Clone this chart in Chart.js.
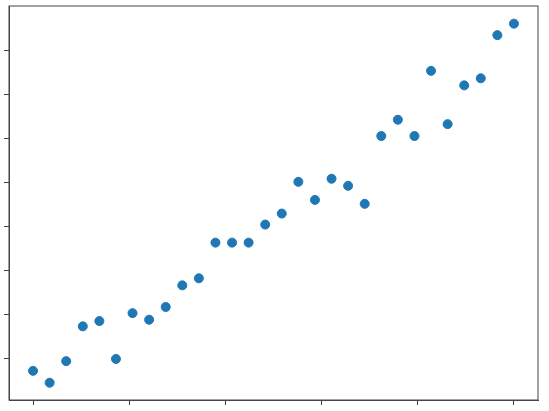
<!DOCTYPE html>
<html>
<head>
<meta charset="utf-8">
<script src="https://cdn.jsdelivr.net/npm/chart.js@4.4.0/dist/chart.umd.min.js"></script>
<style>
	html, body { margin: 0; padding: 0; background: #fff; }
	#wrap { width: 549px; height: 411px; }
</style>
</head>
<body>
<div id="wrap"><canvas id="scatter"></canvas></div>
<script>
// x runs evenly from 0 to 1 (30 points), y in tick units
var xValues = [];
for (var i = 0; i < 30; i++) xValues.push(i / 29);
var yValues = [0.73, 0.46, 0.95, 1.74, 1.86, 1.00, 2.04, 1.89, 2.18, 2.67,
	2.83, 3.64, 3.64, 3.64, 4.05, 4.30, 5.02, 4.61, 5.09, 4.93,
	4.52, 6.06, 6.43, 6.06, 7.54, 6.33, 7.21, 7.37, 8.35, 8.61];
var xTicks = [0, 0.2, 0.4, 0.6, 0.8, 1.0];
var yTicks = [1, 2, 3, 4, 5, 6, 7, 8];

var points = [];
for (var i = 0; i < xValues.length; i++) {
	points.push({ x: xValues[i], y: yValues[i] });
}

// chart.js only draws left/bottom borders, so box the plot area ourselves
var frame = {
	id: 'frame',
	afterDraw: function(chart) {
		var a = chart.chartArea;
		var ctx = chart.ctx;
		ctx.save();
		ctx.strokeStyle = '#444';
		ctx.lineWidth = 1;
		ctx.strokeRect(a.left, a.top, a.right - a.left, a.bottom - a.top);
		ctx.restore();
	}
};

var ctx = document.getElementById('scatter');
var chart = new Chart(ctx, {
	type: 'scatter',
	data: {
		datasets: [{
			data: points,
			backgroundColor: '#1f77b4',
			borderColor: '#1f77b4',
			borderWidth: 1,
			pointRadius: 4.5,
			pointHoverRadius: 4.5
		}]
	},
	options: {
		responsive: true,
		maintainAspectRatio: false,
		animation: false,
		layout: { padding: { left: 4, right: 11, top: 6, bottom: 6 } },
		plugins: { legend: { display: false }, tooltip: { enabled: false } },
		scales: {
			x: {
				type: 'linear',
				min: -0.05,
				max: 1.05,
				afterBuildTicks: function(axis) {
					axis.ticks = xTicks.map(function(v) { return { value: v }; });
				},
				ticks: { display: false },
				grid: { drawOnChartArea: false, drawTicks: true, tickLength: 5, color: '#444' },
				border: { display: true, color: '#444', width: 1 }
			},
			y: {
				type: 'linear',
				min: 1 - 41 / 44,
				max: 1 + 352.5 / 44,
				afterBuildTicks: function(axis) {
					axis.ticks = yTicks.map(function(v) { return { value: v }; });
				},
				ticks: { display: false },
				grid: { drawOnChartArea: false, drawTicks: true, tickLength: 5, color: '#444' },
				border: { display: true, color: '#444', width: 1 }
			}
		}
	},
	plugins: [frame]
});
</script>
</body>
</html>
